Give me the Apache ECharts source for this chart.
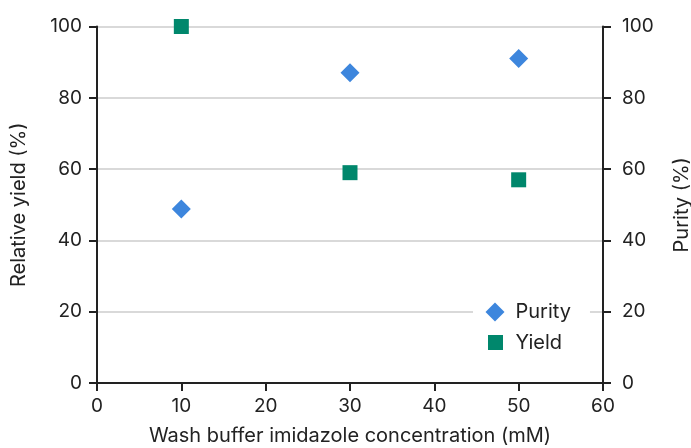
<!DOCTYPE html>
<html><head><meta charset="utf-8">
<script src="https://cdn.jsdelivr.net/npm/echarts@6/dist/echarts.min.js"></script>
<style>html,body{margin:0;padding:0;background:#fff}#c{width:691px;height:448px}</style>
</head><body><div id="c"></div>
<script>
const concentrations = [10, 30, 50];
const purity = [48.8, 87, 91];
const yieldVals = [100, 59, 57];
const xTicks = [0, 10, 20, 30, 40, 50, 60];
const yTicks = [0, 20, 40, 60, 80, 100];

const font = 'Inter, "Noto Sans", sans-serif';
const txt = '#222';
const axisLine = {show: true, lineStyle: {color: '#222', width: 2}};
const axisTick = {show: true, length: 8, lineStyle: {color: '#222', width: 2}};
const chart = echarts.init(document.getElementById('c'));
chart.setOption({
  backgroundColor: '#fff',
  animation: false,
  grid: {left: 97, right: 88, top: 26.5, bottom: 65, containLabel: false, outerBoundsMode: 'none'},
  legend: [{
    data: [{name: 'Purity', icon: 'diamond'}],
    left: 473, top: 298, orient: 'vertical',
    backgroundColor: '#fff', padding: [4, 19, 4, 12.5],
    itemWidth: 19, itemHeight: 19,
    textStyle: {fontFamily: font, fontSize: 20, color: txt, padding: [0, 0, 0, 6]}
  }, {
    data: [{name: 'Yield', icon: 'rect'}],
    left: 473, top: 328.5, orient: 'vertical',
    backgroundColor: '#fff', padding: [4, 19, 4, 15],
    itemWidth: 15, itemHeight: 15,
    textStyle: {fontFamily: font, fontSize: 20, color: txt, padding: [0, 0, 0, 7.5]}
  }],
  xAxis: {
    type: 'value', min: 0, max: 60, interval: 10,
    name: 'Wash buffer imidazole concentration (mM)',
    nameLocation: 'middle', nameGap: 43,
    nameTextStyle: {fontFamily: font, fontSize: 20, color: txt},
    axisLine, axisTick,
    axisLabel: {fontFamily: font, fontSize: 19, color: txt, margin: 14,
      formatter: v => xTicks.includes(v) ? String(v) : ''},
    splitLine: {show: false}
  },
  yAxis: [{
    type: 'value', min: 0, max: 100, interval: 20,
    name: 'Relative yield (%)', nameLocation: 'middle', nameGap: 68,
    nameTextStyle: {fontFamily: font, fontSize: 20, color: txt},
    axisLine, axisTick,
    axisLabel: {fontFamily: font, fontSize: 19, color: txt, margin: 15,
      formatter: v => yTicks.includes(v) ? String(v) : ''},
    splitLine: {show: true, lineStyle: {color: '#cccccc', width: 1.5}}
  }, {
    type: 'value', min: 0, max: 100, interval: 20, position: 'right',
    name: 'Purity (%)', nameLocation: 'middle', nameGap: 69,
    nameTextStyle: {fontFamily: font, fontSize: 20, color: txt},
    axisLine, axisTick,
    axisLabel: {fontFamily: font, fontSize: 19, color: txt, margin: 19,
      formatter: v => yTicks.includes(v) ? String(v) : ''},
    splitLine: {show: false}
  }],
  series: [{
    name: 'Purity', type: 'scatter', yAxisIndex: 1,
    symbol: 'diamond', symbolSize: 19,
    itemStyle: {color: '#3d86dd', opacity: 1},
    data: concentrations.map((c, i) => [c, purity[i]])
  }, {
    name: 'Yield', type: 'scatter', yAxisIndex: 0,
    symbol: 'rect', symbolSize: 15,
    itemStyle: {color: '#00876c', opacity: 1},
    data: concentrations.map((c, i) => [c, yieldVals[i]])
  }]
});
</script></body></html>
